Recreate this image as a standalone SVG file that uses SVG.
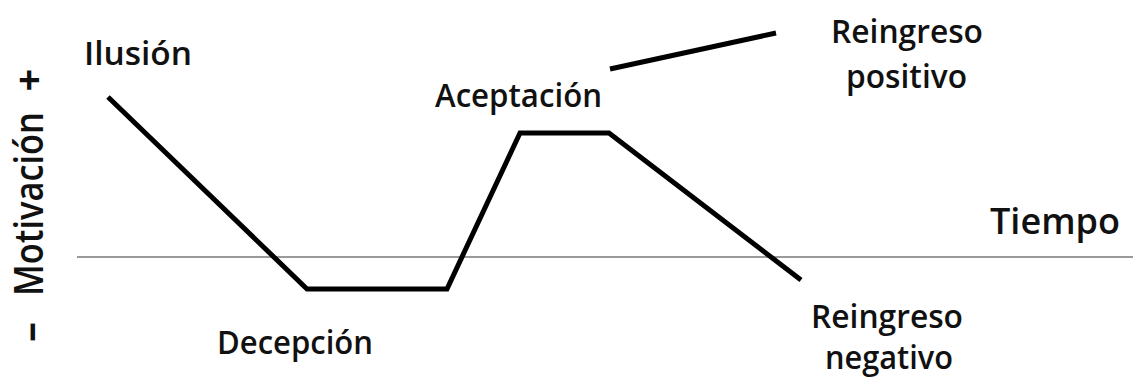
<svg xmlns="http://www.w3.org/2000/svg" width="1133" height="379" viewBox="0 0 1133 379">
  <style>
    .lbl { font-family: "Open Sans", "DejaVu Sans", "Liberation Sans", sans-serif; font-weight: 600; fill: #111; font-size: 32px; }
    .big { font-size: 36px; }
    .axis-lbl { font-size: 40px; }
    .heavy { font-weight: bold; }
    .curve { fill: none; stroke: #000; stroke-width: 5; stroke-linejoin: miter; stroke-linecap: butt; }
    .axis { stroke: #777; stroke-width: 1.5; fill: none; }
  </style>
  <rect width="1133" height="379" fill="#fff"/>
  <g id="connectors">
    <line class="axis" x1="77" y1="257" x2="1133" y2="257"/>
    <polyline class="curve" points="108,97 307,289 447,289 520,133 609,133 801,280"/>
    <line class="curve" x1="610" y1="69" x2="776" y2="33"/>
  </g>
  <g id="axis-y">
    <text class="lbl axis-lbl" transform="translate(43,296) rotate(-90)" textLength="184" lengthAdjust="spacingAndGlyphs">Motivación</text>
    <text class="lbl axis-lbl heavy" transform="translate(43,80) rotate(-90)" text-anchor="middle">+</text>
    <text class="lbl axis-lbl heavy" transform="translate(43,332) rotate(-90)" text-anchor="middle">–</text>
  </g>
  <g id="axis-x">
    <text class="lbl big" x="990" y="234" textLength="130" lengthAdjust="spacingAndGlyphs">Tiempo</text>
  </g>
  <g id="ilusion">
    <text class="lbl" x="84" y="65" textLength="108" lengthAdjust="spacingAndGlyphs">Ilusión</text>
  </g>
  <g id="decepcion">
    <text class="lbl" x="217" y="354" textLength="156" lengthAdjust="spacingAndGlyphs">Decepción</text>
  </g>
  <g id="aceptacion">
    <text class="lbl" x="435" y="107" textLength="167" lengthAdjust="spacingAndGlyphs">Aceptación</text>
  </g>
  <g id="reingreso-positivo">
    <text class="lbl" x="831" y="43" textLength="152" lengthAdjust="spacingAndGlyphs">Reingreso</text>
    <text class="lbl" x="846" y="88" textLength="121" lengthAdjust="spacingAndGlyphs">positivo</text>
  </g>
  <g id="reingreso-negativo">
    <text class="lbl" x="811" y="328" textLength="152" lengthAdjust="spacingAndGlyphs">Reingreso</text>
    <text class="lbl" x="825" y="369" textLength="128" lengthAdjust="spacingAndGlyphs">negativo</text>
  </g>
</svg>
